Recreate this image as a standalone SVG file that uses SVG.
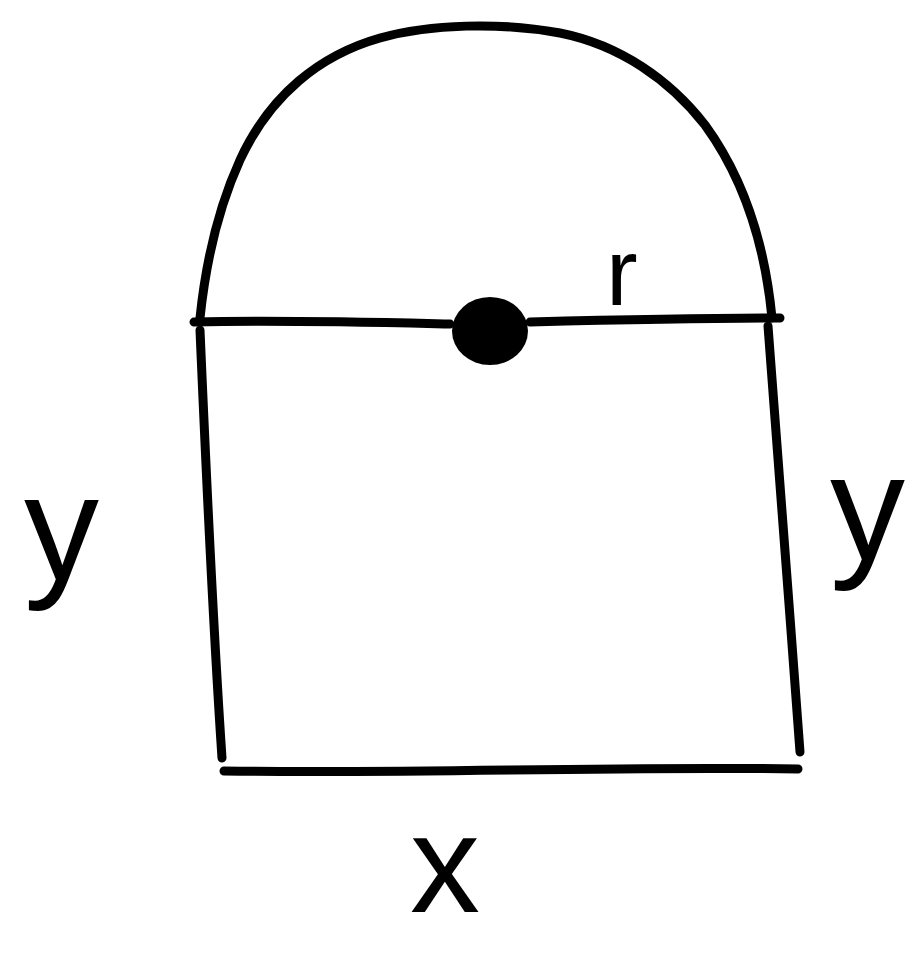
<svg xmlns="http://www.w3.org/2000/svg" width="912" height="955" viewBox="0 0 912 955">
<style>
.ln{fill:none;stroke:#000;stroke-width:9;stroke-linecap:round;stroke-linejoin:round}
.lb{font-family:"Liberation Sans",Arial,sans-serif;fill:#000}
</style>
<rect width="912" height="955" fill="#fff"/>
<g id="shape">
<path class="ln" d="M200,318 C205,270 215,215 240,160 C270,95 320,55 380,38 C430,24 500,22 560,33 C620,45 670,80 705,125 C745,180 765,245 772,318"/>
<path class="ln" d="M194,322 C280,320 360,322 450,324 M530,322 C610,320 700,318 780,318"/>
<ellipse cx="490" cy="331" rx="38" ry="34" fill="#000"/>
<path class="ln" d="M200,330 C206,470 212,610 222,758"/>
<path class="ln" d="M768,326 C778,470 790,610 800,752"/>
<path class="ln" d="M224,771 C420,774 600,766 798,769"/>
</g>
<g id="labels">
<text class="lb" x="606" y="305" font-size="95">r</text>
<text class="lb" x="24" y="580" font-size="150">y</text>
<text class="lb" x="830" y="560" font-size="150">y</text>
<text class="lb" x="410" y="912" font-size="140">x</text>
</g>
</svg>
